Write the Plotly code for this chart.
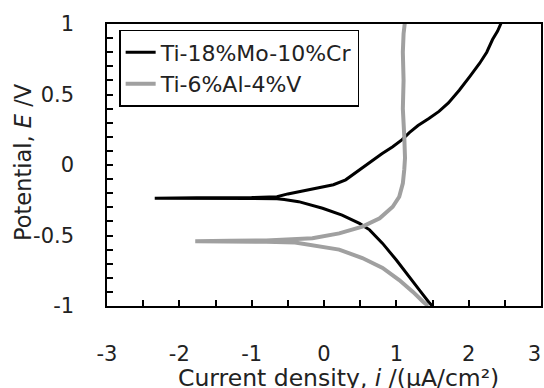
import plotly.graph_objects as go

# Ti-18%Mo-10%Cr (black): log current density vs potential (cathodic branch -> Ecorr -> anodic branch)
mo_i = [1.50, 1.46, 1.32, 1.18, 1.00, 0.81, 0.63, 0.49, 0.25, -0.02, -0.35, -0.55, -0.65,
        -1.00, -1.76, -2.34, -1.76, -1.00, -0.65, -0.50, -0.35, -0.03, 0.13, 0.30, 0.45, 0.60, 0.80,
        0.95, 1.08, 1.18, 1.30, 1.45, 1.59, 1.72, 1.87, 2.02, 2.15, 2.25, 2.33, 2.40, 2.46]
mo_E = [-1.00, -0.98, -0.887, -0.79, -0.674, -0.556, -0.46, -0.414, -0.355, -0.307, -0.26, -0.245, -0.24,
        -0.238, -0.236, -0.235, -0.232, -0.231, -0.225, -0.205, -0.19, -0.16, -0.14, -0.105, -0.05, 0.01, 0.08,
        0.13, 0.18, 0.23, 0.28, 0.33, 0.38, 0.44, 0.53, 0.63, 0.72, 0.80, 0.89, 0.95, 1.02]

# Ti-6%Al-4%V (gray)
al_i = [1.44, 1.37, 1.23, 1.04, 0.81, 0.53, 0.21, -0.16, -0.40, -0.80, -1.30, -1.78,
        -1.30, -0.80, -0.40, -0.16, 0.21, 0.53, 0.77, 0.95, 1.04, 1.09, 1.11, 1.12,
        1.11, 1.09, 1.10, 1.09, 1.10, 1.12]
al_E = [-1.00, -0.97, -0.90, -0.816, -0.73, -0.66, -0.60, -0.567, -0.55, -0.545, -0.542, -0.54,
        -0.537, -0.535, -0.53, -0.52, -0.485, -0.437, -0.378, -0.296, -0.225, -0.13, -0.03, 0.05,
        0.20, 0.40, 0.60, 0.80, 0.93, 1.02]

series_names = ["Ti-18%Mo-10%Cr", "Ti-6%Al-4%V"]
x_title = "Current density, <i>i</i> /(μA/cm²)"
y_title = "Potential, <i>E</i> /V"

# tick marks every 0.5 on x (labels at integers), every 0.1 on y (labels every 0.5)
x_tickvals = [-3, -2.5, -2, -1.5, -1, -0.5, 0, 0.5, 1, 1.5, 2, 2.5, 3]
x_ticklabels = ["-3", "", "-2", "", "-1", "", "0", "", "1", "", "2", "", "3"]
y_tickvals = [-1, -0.9, -0.8, -0.7, -0.6, -0.5, -0.4, -0.3, -0.2, -0.1, 0,
              0.1, 0.2, 0.3, 0.4, 0.5, 0.6, 0.7, 0.8, 0.9, 1]
y_ticklabels = ["-1", "", "", "", "", "-0.5", "", "", "", "", "0",
                "", "", "", "", "0.5", "", "", "", "", "1"]

FONT = "DejaVu Sans, sans-serif"
PAD = "\u00a0" * 4
NB = "\u00a0"


def x_text(t, last):
    if not t:
        return ""
    return "<br>" + t + (NB * 2 if last else "")


fig = go.Figure()
fig.add_trace(go.Scatter(x=mo_i, y=mo_E, mode="lines", name=series_names[0],
                         line=dict(color="#000000", width=3)))
fig.add_trace(go.Scatter(x=al_i, y=al_E, mode="lines", name=series_names[1],
                         line=dict(color="#a0a0a0", width=4)))

fig.update_layout(
    width=544, height=388,
    margin=dict(l=107, r=3, t=24, b=82, autoexpand=False),
    paper_bgcolor="white", plot_bgcolor="white",
    font=dict(family=FONT, size=21, color="#222"),
    showlegend=True,
    legend=dict(x=0.028, y=0.979, xanchor="left", yanchor="top",
                bordercolor="black", borderwidth=1.5, bgcolor="white",
                font=dict(size=22, color="#222"), tracegroupgap=0,
                itemwidth=30),
    annotations=[
        dict(text=x_title, xref="paper", yref="paper", x=0.5, y=0, xanchor="center",
             yanchor="middle", xshift=14, yshift=-72, showarrow=False,
             font=dict(family=FONT, size=23.5, color="#222")),
        dict(text=y_title, xref="paper", yref="paper", x=0, y=0.5, xanchor="center",
             yanchor="middle", xshift=-84, yshift=3, textangle=-90, showarrow=False,
             font=dict(family=FONT, size=22.5, color="#222")),
    ],
)
fig.update_xaxes(range=[-3, 3], tickmode="array", tickvals=x_tickvals,
                 ticktext=[x_text(t, i == len(x_ticklabels) - 1) for i, t in enumerate(x_ticklabels)],
                 ticks="inside", ticklen=6, tickwidth=2, tickcolor="black",
                 showline=True, linecolor="black", linewidth=2, mirror=True, showgrid=False,
                 automargin=False, ticklabeloverflow="allow")
fig.update_yaxes(range=[-1, 1], tickmode="array", tickvals=y_tickvals,
                 ticktext=[(t + PAD) if t else "" for t in y_ticklabels],
                 ticks="inside", ticklen=6, tickwidth=2, tickcolor="black",
                 showline=True, linecolor="black", linewidth=2, mirror=True, showgrid=False,
                 automargin=False)

fig.write_html("out.html")
